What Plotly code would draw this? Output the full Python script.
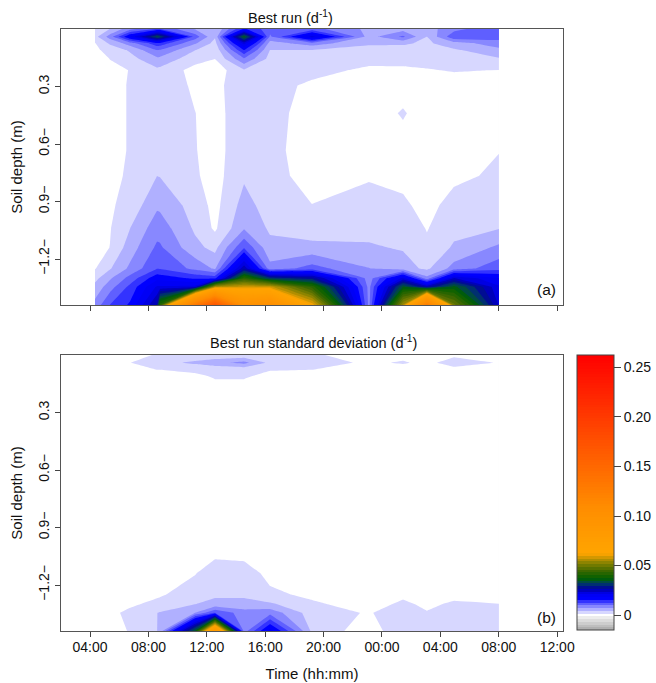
import numpy as np
import plotly.graph_objects as go

time_h = [4.34, 5.37, 6.74, 8.59, 8.79, 11.19, 12.56, 14.55, 16.33, 19.21, 23.11, 25.44, 27.08, 28.93, 32.01]
depth_m = [0.0, -0.04, -0.075, -0.11, -0.155, -0.215, -0.295, -0.44, -0.635, -0.765, -0.92, -1.04, -1.14, -1.25, -1.30, -1.345, -1.44]
tick_hours = [4, 8, 12, 16, 20, 24, 28, 32, 36]
tick_labels = ["04:00", "08:00", "12:00", "16:00", "20:00", "00:00", "04:00", "08:00", "12:00"]
depth_ticks = [-0.3, -0.6, -0.9, -1.2]
depth_labels = ["0.3", "0.6\u2212", "0.9\u2212", "\u22121.2\u2212"]
cbar_ticks = [0, 0.05, 0.10, 0.15, 0.20, 0.25]
cbar_labels = ["0", "0.05", "0.10", "0.15", "0.20", "0.25"]

# Best run, one list per time column, top to bottom
a_c00 = [.0020,.0035,.0015,.0010,.0006,.0003,.0002,.0002,.0001,.0001,.0002,.0003,.0005,.0015,.0036,.0052,.0082]
a_c01 = [.0045,.0085,.0048,.0028,.0017,.0012,.0010,.0010,.0010,.0012,.0013,.0015,.0017,.0042,.0068,.0088,.0128]
a_c02 = [.0090,.0185,.0085,.0048,.0034,.0017,.0018,.0018,.0018,.0019,.0026,.0044,.0058,.0078,.0110,.0135,.0160]
a_c03 = [.0130,.0330,.0145,.0100,.0066,.0038,.0035,.0034,.0036,.0044,.0067,.0088,.0105,.0127,.0175,.0215,.0270]
a_c04 = [.0128,.0320,.0143,.0098,.0065,.0036,.0034,.0033,.0035,.0043,.0066,.0087,.0104,.0126,.0172,.0215,.0420]
a_c05 = [.0070,.0115,.0075,.0045,.0027,.0007,.0012,.0017,.0018,.0020,.0032,.0040,.0052,.0092,.0150,.0220,.1300]
a_c06 = [.0044,.0047,.0035,.0025,.0017,.0000,.0005,.0005,.0005,.0006,.0008,.0012,.0036,.0068,.0145,.0550,.1700]
a_c07 = [.0160,.0360,.0220,.0155,.0097,.0041,.0042,.0037,.0037,.0040,.0055,.0069,.0125,.0260,.0420,.0580,.1000]
a_c08 = [.0110,.0095,.0060,.0044,.0035,.0030,.0025,.0026,.0024,.0026,.0031,.0040,.0052,.0082,.0310,.0580,.1050]
a_c09 = [.0110,.0220,.0085,.0044,.0034,.0024,.0012,.0005,.0004,.0006,.0017,.0030,.0052,.0112,.0280,.0420,.0620]
a_c10 = [.0065,.0060,.0048,.0035,.0024,.0012,.0006,.0003,.0003,.0012,.0033,.0037,.0047,.0073,.0085,.0090,.0090]
a_c11 = [.0060,.0105,.0048,.0033,.0023,.0013,.0005,.0019,.0005,.0011,.0020,.0035,.0042,.0055,.0220,.0350,.0550]
a_c12 = [.0060,.0044,.0039,.0034,.0025,.0015,.0006,.0004,.0005,.0007,.0010,.0015,.0022,.0039,.0080,.0260,.1250]
a_c13 = [.0090,.0120,.0060,.0040,.0032,.0018,.0006,.0004,.0005,.0012,.0024,.0036,.0048,.0083,.0240,.0360,.0500]
a_c14 = [.0125,.0115,.0085,.0065,.0042,.0016,.0008,.0011,.0016,.0020,.0035,.0043,.0078,.0118,.0185,.0215,.0235]

# Best run standard deviation
b_c00 = [.0000,.0000,.0000,.0000,.0000,.0000,.0000,.0000,.0000,.0000,.0000,.0000,.0000,.0000,.0000,.0000,.0000]
b_c01 = [.0002,.0008,.0001,.0000,.0000,.0000,.0000,.0000,.0000,.0000,.0000,.0000,.0000,.0000,.0000,.0010,.0008]
b_c02 = [.0010,.0016,.0006,.0001,.0000,.0000,.0000,.0000,.0000,.0000,.0000,.0000,.0000,.0004,.0012,.0023,.0018]
b_c03 = [.0018,.0033,.0017,.0007,.0003,.0000,.0000,.0000,.0000,.0000,.0000,.0000,.0002,.0012,.0024,.0044,.0044]
b_c04 = [.0018,.0034,.0017,.0007,.0003,.0000,.0000,.0000,.0000,.0000,.0000,.0000,.0002,.0013,.0026,.0046,.0052]
b_c05 = [.0022,.0050,.0022,.0012,.0005,.0000,.0000,.0000,.0000,.0000,.0000,.0003,.0015,.0032,.0044,.0072,.0350]
b_c06 = [.0023,.0063,.0025,.0019,.0012,.0001,.0000,.0000,.0000,.0000,.0002,.0010,.0035,.0040,.0052,.0125,.0850]
b_c07 = [.0025,.0080,.0027,.0019,.0012,.0001,.0000,.0000,.0000,.0000,.0002,.0010,.0028,.0040,.0052,.0085,.0085]
b_c08 = [.0024,.0037,.0018,.0011,.0005,.0000,.0000,.0000,.0000,.0000,.0000,.0002,.0010,.0021,.0049,.0090,.0196]
b_c09 = [.0019,.0028,.0017,.0008,.0003,.0000,.0000,.0000,.0000,.0000,.0000,.0000,.0003,.0012,.0020,.0030,.0038]
b_c10 = [.0008,.0012,.0005,.0002,.0000,.0000,.0000,.0000,.0000,.0000,.0000,.0000,.0000,.0002,.0007,.0014,.0000]
b_c11 = [.0009,.0019,.0006,.0002,.0000,.0000,.0000,.0000,.0000,.0000,.0000,.0000,.0000,.0012,.0021,.0034,.0040]
b_c12 = [.0006,.0010,.0004,.0001,.0000,.0000,.0000,.0000,.0000,.0000,.0000,.0000,.0000,.0006,.0012,.0018,.0032]
b_c13 = [.0012,.0027,.0010,.0003,.0000,.0000,.0000,.0000,.0000,.0000,.0000,.0000,.0000,.0010,.0020,.0024,.0030]
b_c14 = [.0006,.0015,.0004,.0001,.0000,.0000,.0000,.0000,.0000,.0000,.0000,.0000,.0000,.0008,.0017,.0020,.0025]

a_cols = [a_c00,a_c01,a_c02,a_c03,a_c04,a_c05,a_c06,a_c07,a_c08,a_c09,a_c10,a_c11,a_c12,a_c13,a_c14]
b_cols = [b_c00,b_c01,b_c02,b_c03,b_c04,b_c05,b_c06,b_c07,b_c08,b_c09,b_c10,b_c11,b_c12,b_c13,b_c14]
z_a = np.array(a_cols).T
z_b = np.array(b_cols).T

ZMIN, ZMAX = -0.015, 0.2625
stops = [(-0.015,"#a8a8a8"),(-0.0025,"#ececec"),(0.0003,"#ffffff"),
         (0.00304,"#d7d7ff"),(0.00581,"#b0b0ff"),(0.00859,"#8888ff"),(0.01136,"#5f5fff"),
         (0.01414,"#3333ff"),(0.01692,"#0000ff"),(0.0215,"#0000f0"),(0.027,"#0000a0"),
         (0.032,"#004060"),(0.037,"#006000"),(0.045,"#406800"),(0.052,"#808000"),
         (0.062,"#ffa500"),(0.11,"#ff8c00"),(0.16,"#ff5f00"),(0.21,"#ff3000"),(0.2625,"#ff0000")]
cscale = [[(v-ZMIN)/(ZMAX-ZMIN), c] for v, c in stops]
levels = dict(start=ZMIN, end=ZMAX, size=0.002775, coloring="fill", showlines=False)
FONT = "Liberation Sans"
W, H = 656, 683

fig = go.Figure()
fig.add_trace(go.Contour(x=time_h, y=depth_m, z=z_a, autocontour=False, contours=levels,
                         zmin=ZMIN, zmax=ZMAX, colorscale=cscale, showscale=False,
                         line=dict(width=0, smoothing=0), xaxis="x", yaxis="y"))
fig.add_trace(go.Contour(x=time_h, y=depth_m, z=z_b, autocontour=False, contours=levels,
                         zmin=ZMIN, zmax=ZMAX, colorscale=cscale, line=dict(width=0, smoothing=0),
                         xaxis="x2", yaxis="y2",
                         colorbar=dict(x=577/W, xanchor="left", y=(H-630)/H, yanchor="bottom",
                                       len=275, lenmode="pixels", thickness=37, thicknessmode="pixels",
                                       xpad=0, ypad=0, outlinecolor="#444", outlinewidth=1,
                                       ticks="outside", ticklen=7, tickcolor="#444",
                                       tickvals=cbar_ticks, ticktext=cbar_labels,
                                       tickfont=dict(family=FONT, size=14, color="#111"))))

xax = dict(range=[2.01, 36.4], domain=[61/W, 563/W], tickmode="array", tickvals=tick_hours,
           ticks="outside", ticklen=5, tickcolor="#444", tickwidth=1, linecolor="#555", linewidth=1,
           mirror=True, showgrid=False, zeroline=False, tickfont=dict(family=FONT, size=14, color="#111"))
yax = dict(range=[-1.44, 0.0], tickmode="array", tickvals=depth_ticks, ticktext=depth_labels,
           tickangle=-90, ticks="outside", ticklen=5, tickcolor="#444", tickwidth=1,
           linecolor="#555", linewidth=1, mirror=True, showgrid=False, zeroline=False,
           tickfont=dict(family=FONT, size=14, color="#111"),
           title=dict(text="Soil depth (m)", font=dict(family=FONT, size=15, color="#111"), standoff=10))

fig.update_layout(
    width=W, height=H, margin=dict(l=0, r=0, t=0, b=0, autoexpand=False),
    paper_bgcolor="white", plot_bgcolor="white", showlegend=False,
    xaxis=dict(xax, anchor="y", showticklabels=False),
    yaxis=dict(yax, anchor="x", domain=[(H-305)/H, (H-29)/H]),
    xaxis2=dict(xax, anchor="y2", showticklabels=True, ticktext=tick_labels, ticklabelstandoff=-2,
                title=dict(text="Time (hh:mm)", font=dict(family=FONT, size=15, color="#111"), standoff=14)),
    yaxis2=dict(yax, anchor="x2", domain=[(H-631)/H, (H-355)/H]),
    annotations=[
        dict(text="Best run (d<sup>-1</sup>)", xref="paper", yref="paper", x=290/W, y=(H-17)/H,
             showarrow=False, xanchor="center", yanchor="middle", font=dict(family=FONT, size=14.5, color="#111")),
        dict(text="Best run standard deviation (d<sup>-1</sup>)", xref="paper", yref="paper", x=313.5/W, y=(H-342)/H,
             showarrow=False, xanchor="center", yanchor="middle", font=dict(family=FONT, size=14.5, color="#111")),
        dict(text="(a)", xref="paper", yref="paper", x=546/W, y=(H-289)/H, showarrow=False,
             xanchor="center", yanchor="middle", font=dict(family=FONT, size=15.5, color="#111")),
        dict(text="(b)", xref="paper", yref="paper", x=546/W, y=(H-617)/H, showarrow=False,
             xanchor="center", yanchor="middle", font=dict(family=FONT, size=15.5, color="#111")),
    ],
)
fig.write_html("out.html", config={"displayModeBar": False}, post_script="document.body.style.margin='0';")
